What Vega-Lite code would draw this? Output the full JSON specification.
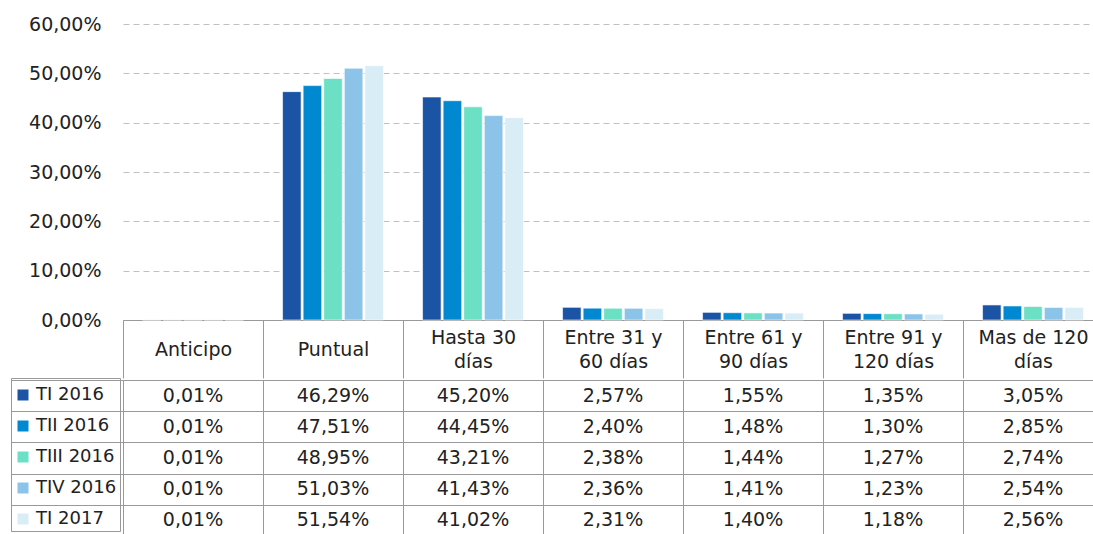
{
  "$schema": "https://vega.github.io/schema/vega-lite/v6.json",
  "padding": {"left": 10, "top": 15, "right": 0, "bottom": 0},
  "spacing": 0,
  "config": {"view": {"stroke": null}, "font": "DejaVu Sans"},
  "resolve": {"scale": {"color": "shared"}, "legend": {"color": "shared"}},
  "data": {"values": [
    {"cat": "Anticipo", "serie": "TI 2016", "value": 0.01},
    {"cat": "Puntual", "serie": "TI 2016", "value": 46.29},
    {"cat": "Hasta 30 días", "serie": "TI 2016", "value": 45.20},
    {"cat": "Entre 31 y 60 días", "serie": "TI 2016", "value": 2.57},
    {"cat": "Entre 61 y 90 días", "serie": "TI 2016", "value": 1.55},
    {"cat": "Entre 91 y 120 días", "serie": "TI 2016", "value": 1.35},
    {"cat": "Mas de 120 días", "serie": "TI 2016", "value": 3.05},
    {"cat": "Anticipo", "serie": "TII 2016", "value": 0.01},
    {"cat": "Puntual", "serie": "TII 2016", "value": 47.51},
    {"cat": "Hasta 30 días", "serie": "TII 2016", "value": 44.45},
    {"cat": "Entre 31 y 60 días", "serie": "TII 2016", "value": 2.40},
    {"cat": "Entre 61 y 90 días", "serie": "TII 2016", "value": 1.48},
    {"cat": "Entre 91 y 120 días", "serie": "TII 2016", "value": 1.30},
    {"cat": "Mas de 120 días", "serie": "TII 2016", "value": 2.85},
    {"cat": "Anticipo", "serie": "TIII 2016", "value": 0.01},
    {"cat": "Puntual", "serie": "TIII 2016", "value": 48.95},
    {"cat": "Hasta 30 días", "serie": "TIII 2016", "value": 43.21},
    {"cat": "Entre 31 y 60 días", "serie": "TIII 2016", "value": 2.38},
    {"cat": "Entre 61 y 90 días", "serie": "TIII 2016", "value": 1.44},
    {"cat": "Entre 91 y 120 días", "serie": "TIII 2016", "value": 1.27},
    {"cat": "Mas de 120 días", "serie": "TIII 2016", "value": 2.74},
    {"cat": "Anticipo", "serie": "TIV 2016", "value": 0.01},
    {"cat": "Puntual", "serie": "TIV 2016", "value": 51.03},
    {"cat": "Hasta 30 días", "serie": "TIV 2016", "value": 41.43},
    {"cat": "Entre 31 y 60 días", "serie": "TIV 2016", "value": 2.36},
    {"cat": "Entre 61 y 90 días", "serie": "TIV 2016", "value": 1.41},
    {"cat": "Entre 91 y 120 días", "serie": "TIV 2016", "value": 1.23},
    {"cat": "Mas de 120 días", "serie": "TIV 2016", "value": 2.54},
    {"cat": "Anticipo", "serie": "TI 2017", "value": 0.01},
    {"cat": "Puntual", "serie": "TI 2017", "value": 51.54},
    {"cat": "Hasta 30 días", "serie": "TI 2017", "value": 41.02},
    {"cat": "Entre 31 y 60 días", "serie": "TI 2017", "value": 2.31},
    {"cat": "Entre 61 y 90 días", "serie": "TI 2017", "value": 1.40},
    {"cat": "Entre 91 y 120 días", "serie": "TI 2017", "value": 1.18},
    {"cat": "Mas de 120 días", "serie": "TI 2017", "value": 2.56}
  ]},
  "vconcat": [
    {
      "width": 980,
      "height": 296,
      "encoding": {
        "xOffset": {
          "field": "serie", "type": "nominal",
          "sort": ["TI 2016", "TII 2016", "TIII 2016", "TIV 2016", "TI 2017"],
          "scale": {"paddingInner": 0.1, "paddingOuter": 0.95}
        },
        "y": {
          "field": "value", "type": "quantitative",
          "scale": {"domain": [0, 60]},
          "axis": {
            "title": null, "values": [0, 10, 20, 30, 40, 50, 60],
            "domain": false, "ticks": false, "labelPadding": 22,
            "labelFontSize": 19, "labelColor": "#222",
            "gridColor": "#c0c0c0", "gridDash": [6, 4],
            "labelExpr": "replace(format(datum.value,'.2f'),'.',',') + '%'"
          }
        }
      },
      "layer": [
        {
          "mark": {"type": "bar", "stroke": "white", "strokeWidth": 0.6},
          "encoding": {
            "x": {
              "field": "cat", "type": "nominal",
              "sort": ["Anticipo", "Puntual", "Hasta 30 días", "Entre 31 y 60 días", "Entre 61 y 90 días", "Entre 91 y 120 días", "Mas de 120 días"],
              "scale": {"paddingInner": 0, "paddingOuter": 0},
              "axis": {
                "title": null, "labelAngle": 0, "orient": "bottom",
                "tickBand": "extent", "tickSize": 58, "tickColor": "#999", "domainColor": "#999",
                "labelFontSize": 19, "labelColor": "#222", "labelPadding": -41,
                "labelBaseline": "middle", "labelLimit": 0, "labelOverlap": false, "labelBound": false,
                "labelExpr": "indexof(datum.label,' y ')>0 ? substring(datum.label,0,indexof(datum.label,' y ')+2) : indexof(datum.label,' días')>0 ? replace(datum.label,' días','') : ''"
              }
            },
            "color": {
              "field": "serie", "type": "nominal",
              "sort": ["TI 2016", "TII 2016", "TIII 2016", "TIV 2016", "TI 2017"],
              "scale": {
                "domain": ["TI 2016", "TII 2016", "TIII 2016", "TIV 2016", "TI 2017"],
                "range": ["#1b54a4", "#0089d1", "#6ce0c5", "#8bc3e9", "#d9edf7"]
              },
              "legend": {
                "orient": "none", "legendX": -112, "legendY": 354, "title": " ",
                "titleFontSize": 1, "titlePadding": 4,
                "symbolType": "square", "symbolSize": 121, "symbolStrokeWidth": 0,
                "labelFontSize": 18, "labelColor": "#222", "labelOffset": 4,
                "rowPadding": 13, "padding": 3, "strokeColor": "#999"
              }
            }
          }
        },
        {
          "mark": {"type": "bar", "opacity": 0},
          "encoding": {
            "x": {
              "field": "cat", "type": "nominal",
              "sort": ["Anticipo", "Puntual", "Hasta 30 días", "Entre 31 y 60 días", "Entre 61 y 90 días", "Entre 91 y 120 días", "Mas de 120 días"],
              "scale": {"paddingInner": 0, "paddingOuter": 0},
              "axis": {
                "title": null, "labelAngle": 0, "orient": "bottom", "domain": false,
                "tickBand": "extent", "tickSize": 58, "tickOpacity": 0,
                "labelFontSize": 19, "labelColor": "#222", "labelPadding": -17,
                "labelBaseline": "middle", "labelLimit": 0, "labelOverlap": false, "labelBound": false,
                "labelExpr": "indexof(datum.label,' y ')>0 ? substring(datum.label,indexof(datum.label,' y ')+3) : indexof(datum.label,' días')>0 ? 'días' : ''"
              }
            }
          }
        },
        {
          "mark": {"type": "bar", "opacity": 0},
          "encoding": {
            "x": {
              "field": "cat", "type": "nominal",
              "sort": ["Anticipo", "Puntual", "Hasta 30 días", "Entre 31 y 60 días", "Entre 61 y 90 días", "Entre 91 y 120 días", "Mas de 120 días"],
              "scale": {"paddingInner": 0, "paddingOuter": 0},
              "axis": {
                "title": null, "labelAngle": 0, "orient": "bottom", "domain": false,
                "tickBand": "extent", "tickSize": 58, "tickOpacity": 0,
                "labelFontSize": 19, "labelColor": "#222", "labelPadding": -29,
                "labelBaseline": "middle", "labelLimit": 0, "labelOverlap": false, "labelBound": false,
                "labelExpr": "indexof(datum.label,' ')>0 ? '' : datum.label"
              }
            }
          }
        }
      ],
      "resolve": {"axis": {"x": "independent"}}
    },
    {
      "width": 980,
      "height": 156,
      "view": {"stroke": "#999"},
      "transform": [{"calculate": "replace(format(datum.value,'.2f'),'.',',') + '%'", "as": "label"}],
      "mark": {"type": "text", "fontSize": 19, "color": "#222"},
      "encoding": {
        "x": {
          "field": "cat", "type": "nominal",
          "sort": ["Anticipo", "Puntual", "Hasta 30 días", "Entre 31 y 60 días", "Entre 61 y 90 días", "Entre 91 y 120 días", "Mas de 120 días"],
          "scale": {"paddingInner": 0, "paddingOuter": 0},
          "axis": {"title": null, "labels": false, "ticks": false, "domain": false, "grid": true, "tickBand": "extent", "gridColor": "#999"}
        },
        "y": {
          "field": "serie", "type": "nominal",
          "sort": ["TI 2016", "TII 2016", "TIII 2016", "TIV 2016", "TI 2017"],
          "scale": {"paddingInner": 0, "paddingOuter": 0},
          "axis": {"title": null, "labels": false, "ticks": true, "tickSize": 112, "tickBand": "extent", "tickColor": "#999", "domainColor": "#999", "grid": true, "gridColor": "#999"}
        },
        "text": {"field": "label"}
      }
    }
  ]
}
